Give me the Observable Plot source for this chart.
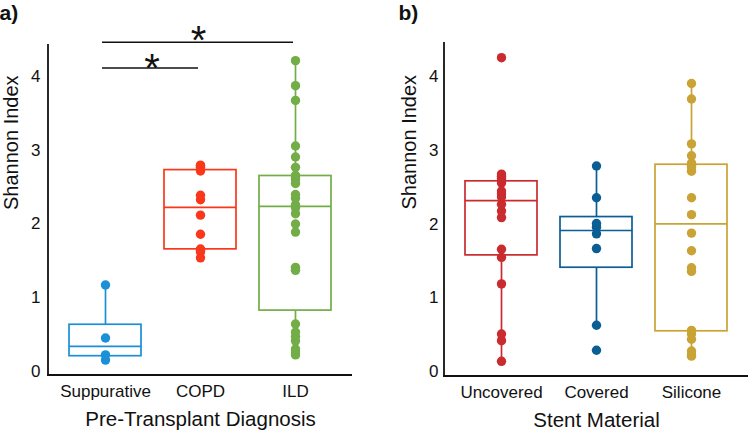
<!DOCTYPE html>
<html><head><meta charset="utf-8">
<script src="https://cdn.jsdelivr.net/npm/d3@7"></script>
<script src="https://cdn.jsdelivr.net/npm/@observablehq/plot@0.6"></script>
<style>
body{margin:0;background:#fff;}
#wrap{display:flex;width:750px;height:431px;}
#wrap svg{display:block;}
</style></head><body><div id="wrap"></div>
<script>
// ---- data ----
const diagnosisGroups = ["Suppurative", "COPD", "ILD"];
const suppurativeValues = [0.15, 0.22, 0.45, 1.17];
const copdValues = [1.54, 1.62, 1.64, 1.66, 1.86, 2.12, 2.33, 2.39, 2.72, 2.77, 2.79, 2.80];
const ildValues = [0.22, 0.26, 0.30, 0.41, 0.47, 0.53, 0.64, 1.37, 1.41, 1.89, 2.00, 2.14, 2.22, 2.26, 2.35, 2.40, 2.55, 2.60, 2.63, 2.66, 2.77, 2.91, 3.06, 3.68, 3.88, 4.22];
const stentGroups = ["Uncovered", "Covered", "Silicone"];
const uncoveredValues = [0.14, 0.42, 0.51, 1.19, 1.55, 1.66, 2.09, 2.18, 2.27, 2.37, 2.41, 2.45, 2.56, 2.59, 2.62, 2.65, 2.68, 4.26];
const coveredValues = [0.29, 0.63, 1.67, 1.87, 1.96, 2.01, 2.36, 2.79];
const siliconeValues = [0.21, 0.23, 0.28, 0.44, 0.51, 0.56, 1.36, 1.41, 1.64, 1.88, 2.13, 2.36, 2.72, 2.77, 2.80, 2.83, 2.93, 3.09, 3.70, 3.91];
const diagnosisColors = ["#1b8fd8", "#f9371a", "#72ad47"];
const stentColors = ["#c92b2e", "#0b5e94", "#c9a335"];
const yTicks = [0, 1, 2, 3, 4];
const yTitle = "Shannon Index";
const sigBars = [
  {from: "Suppurative", to: "COPD", y: 4.12, label: "*"},
  {from: "Suppurative", to: "ILD", y: 4.47, label: "*"}
];

const FONT = "'Liberation Sans', Arial, Helvetica, sans-serif";

function qfn(p) { return v => d3.quantile(v, p); }
function hiWhisker(v) {
  const q1 = d3.quantile(v, 0.25), q3 = d3.quantile(v, 0.75);
  const lim = q3 + 1.5 * (q3 - q1);
  return d3.max(v.filter(d => d <= lim));
}
function loWhisker(v) {
  const q1 = d3.quantile(v, 0.25), q3 = d3.quantile(v, 0.75);
  const lim = q1 - 1.5 * (q3 - q1);
  return d3.min(v.filter(d => d >= lim));
}

function panel(o) {
  const rows = o.groups.flatMap((g, i) => o.series[i].map(v => ({group: g, value: v})));
  const axisLines = (index, scales, values, dims) => {
    const g = d3.create("svg:g");
    const x0 = dims.marginLeft, x1 = dims.width - dims.marginRight;
    const y0 = dims.marginTop, y1 = dims.height - dims.marginBottom;
    g.append("line").attr("x1", x0).attr("x2", x0).attr("y1", y0).attr("y2", y1 + 0.9)
      .attr("stroke", "#111").attr("stroke-width", 1.8);
    g.append("line").attr("x1", x0 - 0.9).attr("x2", x1).attr("y1", y1).attr("y2", y1)
      .attr("stroke", "#111").attr("stroke-width", 1.8);
    return g.node();
  };
  const marks = [
    Plot.ruleX(rows, Plot.groupX({y1: loWhisker, y2: hiWhisker}, {x: "group", y: "value", stroke: "group", strokeWidth: 1.7})),
    Plot.barY(rows, Plot.groupX({y1: qfn(0.25), y2: qfn(0.75)}, {x: "group", y: "value", stroke: "group", fill: "white", strokeWidth: 1.7})),
    Plot.tickY(rows, Plot.groupX({y: qfn(0.5)}, {x: "group", y: "value", stroke: "group", strokeWidth: 1.7})),
    Plot.dot(rows, {x: "group", y: "value", fill: "group", r: 4.7}),
    axisLines,
    Plot.text([yTitle], {text: d => d, frameAnchor: "left", lineAnchor: "middle", rotate: -90, dx: o.yTitleDx, fontSize: 20}),
    Plot.text([o.xTitle], {text: d => d, frameAnchor: "bottom", lineAnchor: "middle", dy: 44, fontSize: 20.5}),
    Plot.text([o.tag], {text: d => d, frameAnchor: "top-left", lineAnchor: "middle", textAnchor: "start", dx: o.tagDx, dy: o.tagDy, fontSize: 21, fontWeight: "bold"})
  ];
  if (o.sig) {
    marks.push(Plot.ruleY(o.sig, {x1: "from", x2: "to", y: "y", insetLeft: 33, insetRight: 38, stroke: "#111", strokeWidth: 1.5}));
    marks.push(Plot.text([o.sig[0]], {x: "to", y: "y", text: "label", dx: -48.5, dy: 1.5, fontSize: 40}));
    marks.push(Plot.text([o.sig[1]], {x: d => "COPD", y: "y", text: "label", dx: -2, dy: -1, fontSize: 40}));
  }
  return Plot.plot({
    width: 375,
    height: 431,
    marginLeft: o.ml, marginRight: o.mr, marginTop: o.mt, marginBottom: o.mb,
    style: {fontFamily: FONT, fontSize: "17px", color: "#111", background: "white", overflow: "visible"},
    x: {domain: o.groups, paddingInner: 0.24, paddingOuter: 0.22, tickSize: 0, tickPadding: 9, label: null},
    y: {domain: o.domainY, ticks: yTicks, tickFormat: d3.format("d"), tickSize: 0, tickPadding: o.tickPad, label: null},
    color: {domain: o.groups, range: o.colors},
    marks
  });
}

const wrap = document.getElementById("wrap");
wrap.appendChild(panel({
  groups: diagnosisGroups,
  series: [suppurativeValues, copdValues, ildValues],
  colors: diagnosisColors,
  xTitle: "Pre-Transplant Diagnosis",
  tag: "a)",
  domainY: [-0.06, 4.44],
  ml: 48, mr: 23, mt: 44, mb: 56,
  tickPad: 8, yTitleDx: -37, tagDx: -49, tagDy: -31,
  sig: sigBars
}));
wrap.appendChild(panel({
  groups: stentGroups,
  series: [uncoveredValues, coveredValues, siliconeValues],
  colors: stentColors,
  xTitle: "Stent Material",
  tag: "b)",
  domainY: [-0.066, 4.466],
  ml: 69, mr: 2, mt: 42, mb: 55,
  tickPad: 6, yTitleDx: -34.5, tagDx: -46, tagDy: -29
}));
</script>
</body></html>
